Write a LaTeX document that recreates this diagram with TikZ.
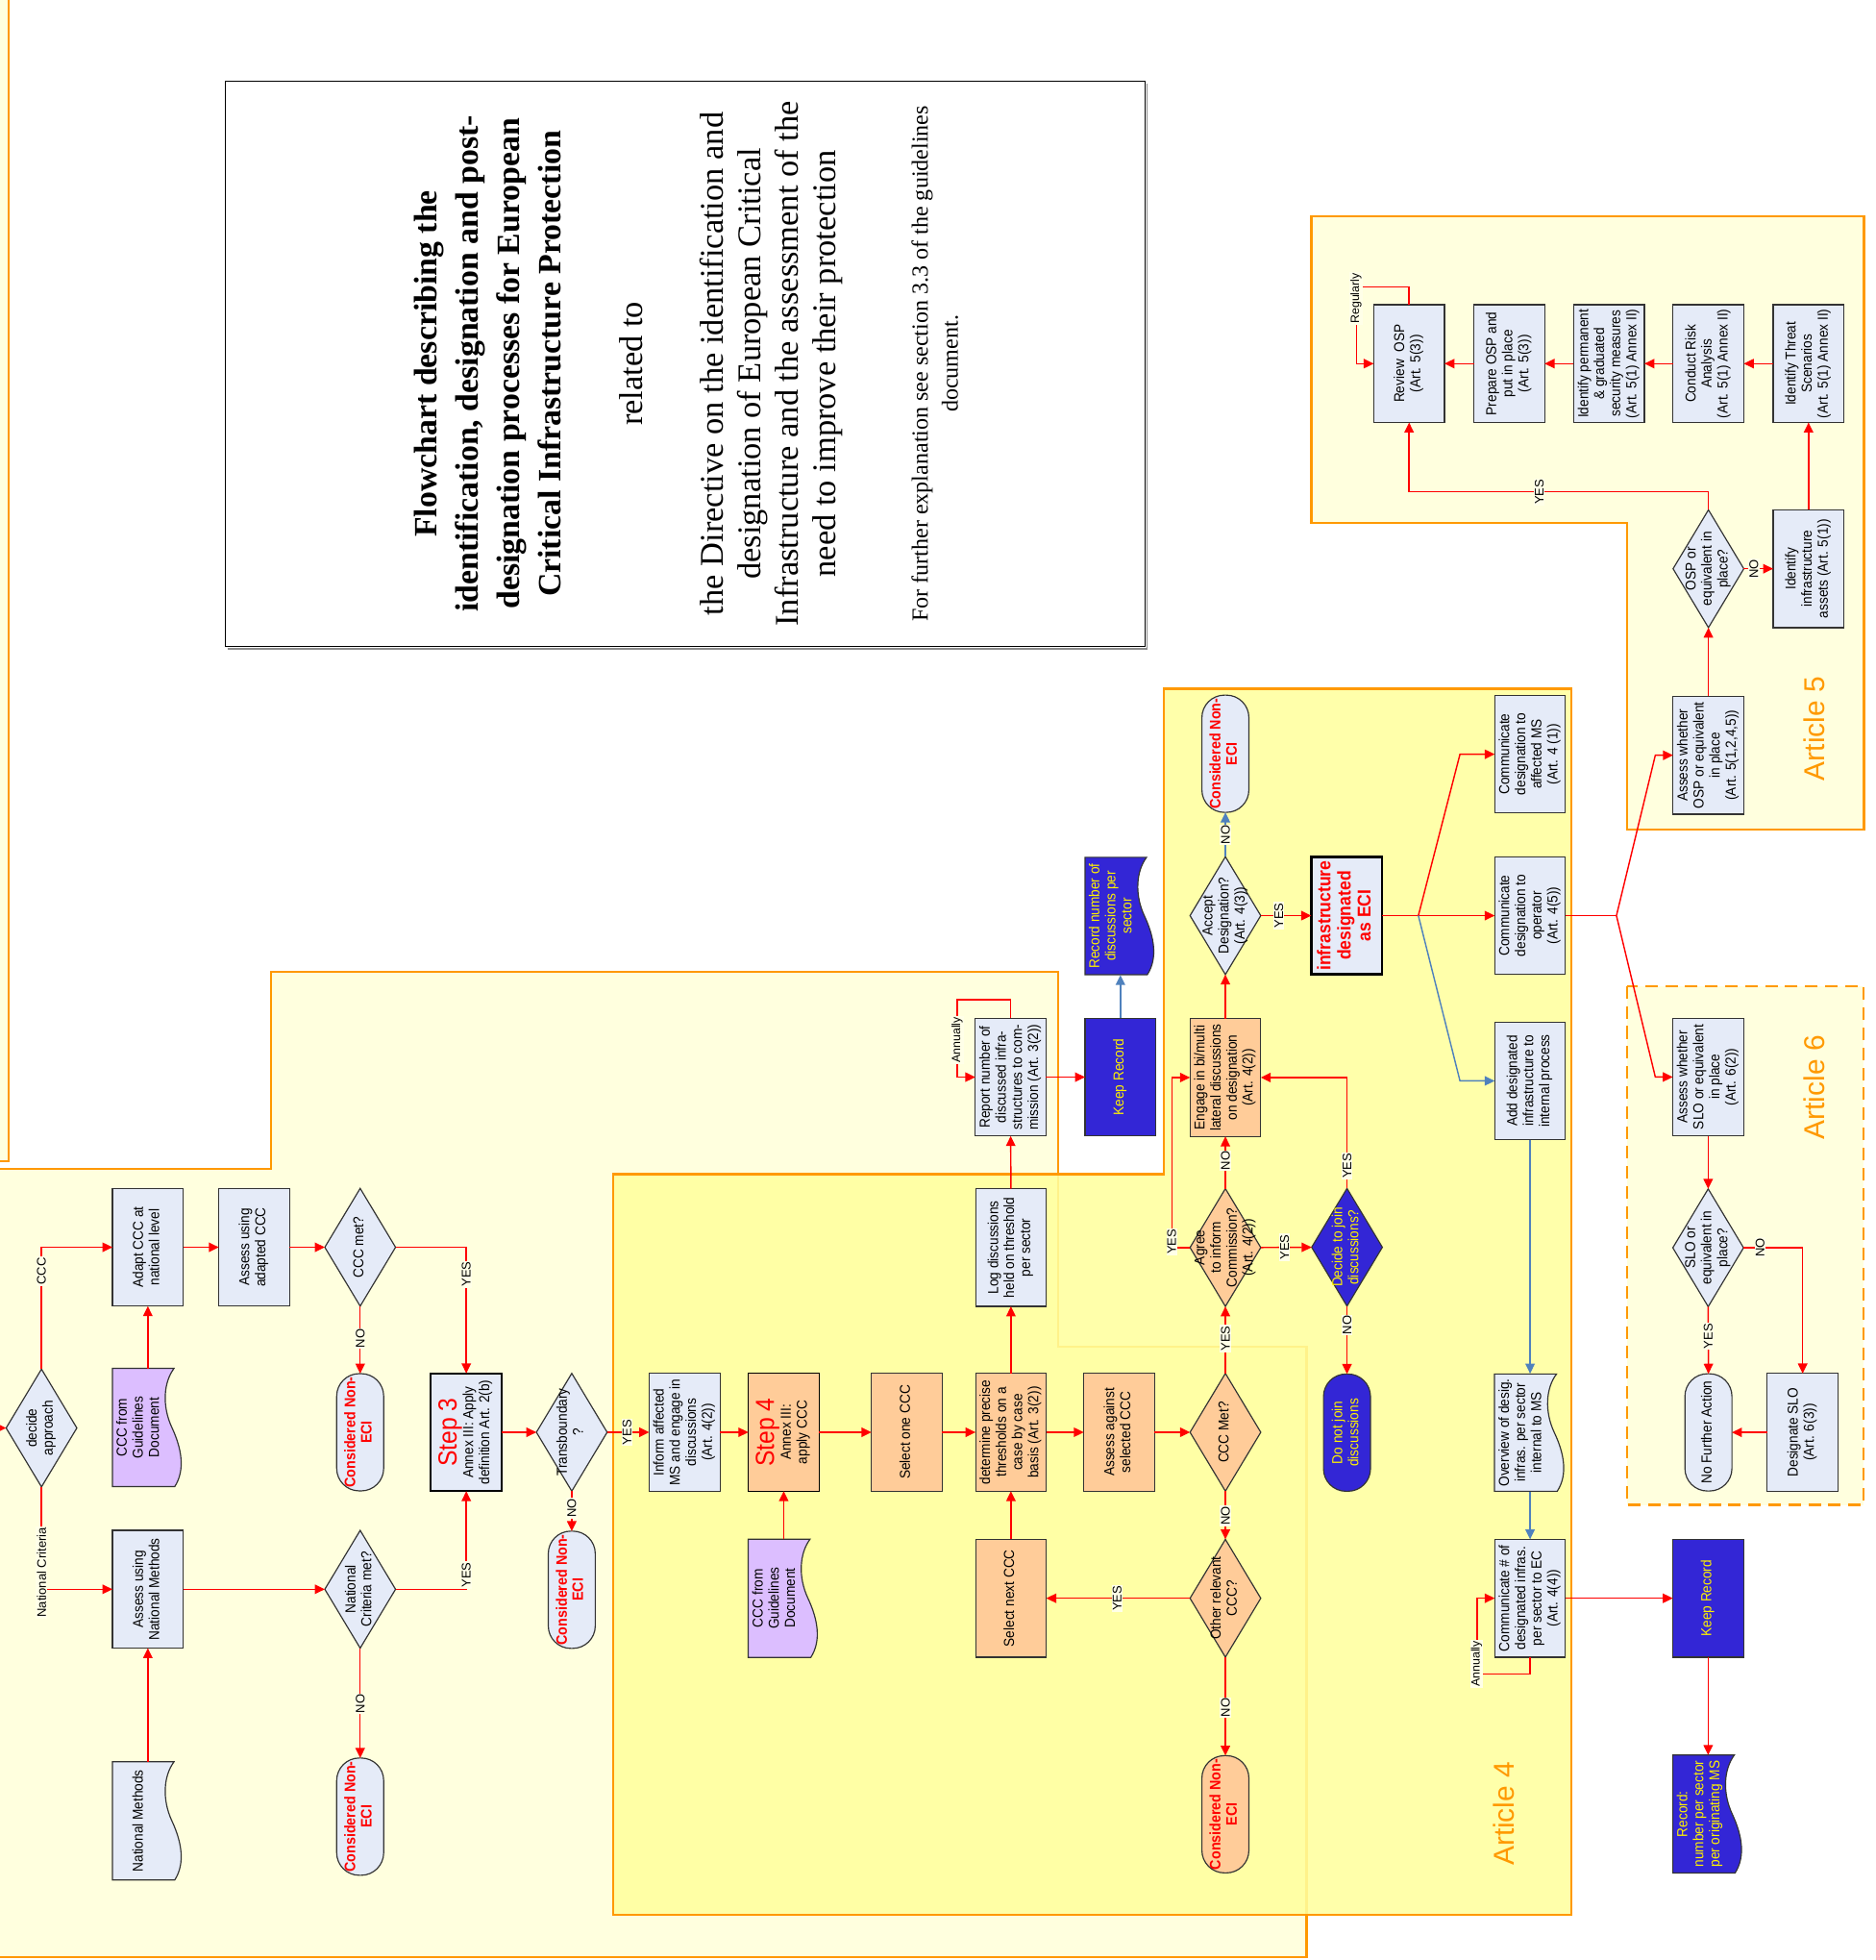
\documentclass[tikz,border=0pt]{standalone}
\usepackage{fontspec}
\usepackage{graphicx}
\setmainfont{Liberation Serif}
\setsansfont{Liberation Sans}
\usetikzlibrary{shapes.geometric,arrows.meta,calc}
\definecolor{lb}{RGB}{229,235,248}
\definecolor{pch}{RGB}{255,204,153}
\definecolor{lil}{RGB}{220,190,255}
\definecolor{dblue}{RGB}{51,38,214}
\definecolor{org}{RGB}{255,153,0}
\definecolor{bgy}{RGB}{255,255,222}
\definecolor{a4y}{RGB}{255,255,158}
\definecolor{arrb}{RGB}{79,129,189}
\definecolor{lblf}{RGB}{255,255,232}
\newcommand\bx{\sffamily\fontsize{10.5}{11.7}\selectfont}
\newcommand\nf{\sffamily\bfseries\fontsize{11}{11.8}\selectfont}
\newcommand\lb{\sffamily\fontsize{10}{12}\selectfont}
\newcommand\sm{\sffamily\fontsize{9.5}{11}\selectfont}
\newcommand\ZR[1]{\makebox[0pt]{\smash{\raisebox{-.5\height}{\rotatebox{90}{\scalebox{1}[1.1]{\begin{tabular}{@{}c@{}}#1\end{tabular}}}}}}}
\newcommand\ZD[1]{\makebox[0pt]{\smash{\raisebox{-.5\height}{\rotatebox{90}{\scalebox{1}[1.1]{\begin{tabular}{@{}c@{}}#1\end{tabular}}}}}\hspace{13pt}}}
\newcommand\docpath[5]{%
  \begin{scope}[shift={(#1-#3/2,#2-#4/2)},x=#3pt,y=-#4pt]
  \draw[docline,fill=#5] (0,0) -- (0.87,0) .. controls (0.72,0.12) and (0.70,0.32) .. (0.84,0.5) .. controls (0.98,0.68) and (1.03,0.86) .. (0.88,1) -- (0,1) -- cycle;
  \end{scope}}
\tikzset{
  every node/.style={inner sep=0pt, outer sep=0pt},
  shp/.style={draw=black!80, line width=0.9pt, font=\bx},
  bxl/.style={shp, rectangle, fill=lb, minimum width=56.6pt, minimum height=94.2pt},
  bxo/.style={bxl, fill=pch},
  bxb/.style={bxl, fill=dblue, text=yellow},
  dia/.style={shp, diamond, fill=lb, minimum width=56.6pt, minimum height=94.2pt},
  term/.style={shp, rectangle, rounded corners=18pt, minimum width=37.6pt, minimum height=93.8pt},
  non/.style={term, text=red, font=\nf},
  docn/.style={rectangle, minimum width=56.6pt, minimum height=94.4pt, font=\bx},
  docline/.style={draw=black!80, line width=0.9pt},
  con/.style={draw=red, line width=1.1pt},
  arr/.style={con, -{Triangle[length=8pt,width=7.5pt]}},
  barr/.style={draw=arrb, line width=1.1pt, -{Triangle[length=8pt,width=7.5pt]}},
  lbl/.style={rotate=90, font=\lb, fill=lblf, inner sep=0.8pt},
  slbl/.style={lbl, font=\sm},
  art/.style={rotate=90, text=org, font=\sffamily\fontsize{23}{26}\selectfont},
  frm/.style={draw=org, line width=1.8pt, fill=bgy},
}
\begin{document}
\begin{tikzpicture}[x=1pt,y=-1pt]
\useasboundingbox (0,0) rectangle (1501,1568);
% ---------------- frames
\begin{scope}
\clip (0,0) rectangle (1501,1568);
\draw[frm] (-20,-20) rectangle (7,929);
\draw[frm] (-20,935) -- (217,935) -- (217,777.5) -- (846.5,777.5) -- (846.5,1077.5) -- (1045.5,1077.5) -- (1045.5,1565.5) -- (-20,1565.5) -- cycle;
\draw[frm, fill=a4y, fill opacity=0.88] (490.4,939.3) -- (931.2,939.3) -- (931.2,551) -- (1257.2,551) -- (1257.2,1532) -- (490.4,1532) -- cycle;
\draw[frm] (1049.3,173.1) -- (1491.4,173.1) -- (1491.4,663.7) -- (1301.8,663.7) -- (1301.8,418.4) -- (1049.3,418.4) -- cycle;
\draw[frm, dash pattern=on 10pt off 6pt] (1302,788.9) rectangle (1491.2,1203.9);
\end{scope}
% ---------------- title box
\draw[black!45, line width=1pt] (182,519) -- (918,519) -- (918,67);
\draw[black, line width=0.8pt, fill=white] (180,65) rectangle (916,517);
\node[rotate=90, align=center, font=\rmfamily\bfseries\fontsize{26}{33}\selectfont] (t1) at (390.5,291) {Flowchart describing the\\identification, designation and post-\\designation processes for European\\Critical Infrastructure Protection};
\node[rotate=90, font=\rmfamily\fontsize{26.5}{30}\selectfont] (t2) at (505.3,291) {related to};
\node[rotate=90, align=center, font=\rmfamily\fontsize{26.5}{30}\selectfont] (t3) at (617,291) {the Directive on the identification and\\designation of European Critical\\Infrastructure and the assessment of the\\need to improve their protection};
\node[rotate=90, align=center, font=\rmfamily\fontsize{18.5}{24}\selectfont] (t4) at (748,291) {For further explanation see section 3.3 of the guidelines\\document.};
% ---------------- article labels
\node[art] (a4) at (1203,1451) {Article 4};
\node[art] (a5) at (1452,583) {Article 5};
\node[art] (a6) at (1452,870) {Article 6};
% ---------------- left part
\node[dia] (decide) at (33.2,1142.4) {\ZR{decide\\approach}};
\node[bxl] (adapt) at (118.3,997.8) {\ZR{Adapt CCC at\\national level}};
\node[bxl] (assessad) at (203.4,997.8) {\ZR{Assess using\\adapted CCC}};
\node[dia] (cccmet) at (288.2,997.8) {\ZR{CCC met?}};
\docpath{118.3}{1142}{56.6}{94.6}{lil}
\node[docn] (ccc1) at (118.3,1142) {\ZD{CCC from\\Guidelines\\Document}};
\node[non, fill=lb] (non1) at (288.2,1145.8) {\ZR{Considered Non-\\ECI}};
\node[bxl, draw=black, line width=1.6pt] (step3) at (373.1,1145.8) {\ZR{{\fontsize{19}{20}\selectfont\color{red}Step 3}\\Annex III: Apply\\definition Art. 2(b)}};
\node[dia] (transb) at (457.5,1145.8) {\ZR{Transboundary\\?}};
\node[non, fill=lb] (non2) at (457.5,1271.8) {\ZR{Considered Non-\\ECI}};
\node[bxl] (assessnm) at (118.3,1271.4) {\ZR{Assess using\\National Methods}};
\docpath{118.3}{1456.7}{56.6}{94.6}{lb}
\node[docn] (natmeth) at (118.3,1456.7) {\ZD{National Methods}};
\node[dia] (ncmet) at (288.2,1271.4) {\ZR{National\\Criteria met?}};
\node[non, fill=lb] (non3) at (288.2,1453.3) {\ZR{Considered Non-\\ECI}};
% ---------------- article 4
\node[bxl] (inform) at (547.8,1145.8) {\ZR{Inform affected\\MS and engage in\\discussions\\(Art. 4(2))}};
\node[bxo, draw=black] (step4) at (627.1,1145.8) {\ZR{{\fontsize{19}{20}\selectfont\color{red}Step 4}\\Annex III:\\apply CCC}};
\docpath{627.1}{1278.6}{57}{94.6}{lil}
\node[docn] (ccc2) at (627.1,1278.6) {\ZD{CCC from\\Guidelines\\Document}};
\node[bxo] (selone) at (725.6,1145.8) {\ZR{Select one CCC}};
\node[bxo] (determine) at (808.9,1145.8) {\ZR{determine precise\\thresholds on a\\case by case\\basis (Art. 3(2))}};
\node[bxo] (assessag) at (895.5,1145.8) {\ZR{Assess against\\selected CCC}};
\node[dia, fill=pch] (cccmet2) at (980.5,1145.8) {\ZR{CCC Met?}};
\node[bxl] (log) at (808.9,998) {\ZR{Log discussions\\held on threshold\\per sector}};
\node[bxo] (selnext) at (808.9,1278.6) {\ZR{Select next CCC}};
\node[dia, fill=pch] (other) at (980.5,1278.6) {\ZR{Other relevant\\CCC?}};
\node[non, fill=pch] (non4) at (980.5,1451.4) {\ZR{Considered Non-\\ECI}};
\node[dia, fill=pch] (agree) at (980.5,998) {\ZR{Agree\\to inform\\Commission?\\(Art. 4(2))}};
\node[bxo] (engage) at (980.5,862) {\ZR{Engage in bi/multi\\lateral discussions\\on designation\\(Art. 4(2))}};
\node[dia] (accept) at (980.5,732.5) {\ZR{Accept\\Designation?\\(Art. 4(3))}};
\node[non, fill=lb] (non5) at (980.5,603) {\ZR{Considered Non-\\ECI}};
\node[dia, fill=dblue, text=yellow] (decide2) at (1077.8,997.8) {\ZR{Decide to join\\discussions?}};
\node[term, fill=dblue, text=yellow] (donot) at (1077.8,1146.1) {\ZR{Do not join\\discussions}};
\node[bxl, draw=black, line width=2.2pt, text=red, font=\sffamily\bfseries\fontsize{13.5}{14.6}\selectfont] (infra) at (1077.5,732.5) {\ZR{infrastructure\\designated\\as ECI}};
\node[bxl] (commms) at (1224.3,603.4) {\ZR{Communicate\\designation to\\affected MS\\(Art. 4 (1))}};
\node[bxl] (commop) at (1224.3,732.5) {\ZR{Communicate\\designation to\\operator\\(Art. 4(5))}};
\node[bxl] (adddes) at (1224.3,864.7) {\ZR{Add designated\\infrastructure to\\internal process}};
\docpath{1224.3}{1146.1}{57.1}{93.8}{lb}
\node[docn] (overview) at (1224.3,1146.1) {\ZD{Overview of desig.\\infras. per sector\\internal to MS}};
\node[bxl] (commnum) at (1224.3,1278.6) {\ZR{Communicate \# of\\designated infras.\\per sector to EC\\(Art. 4(4))}};
% ---------------- outside boxes
\node[bxl] (report) at (808.7,861.7) {\ZR{Report number of\\discussed infra-\\structures to com-\\mission (Art. 3(2))}};
\node[bxb] (keep1) at (896.5,861.7) {\ZR{Keep Record}};
\docpath{896.5}{732.8}{56.6}{93.9}{dblue}
\node[docn, text=yellow] (recdisc) at (896.5,732.8) {\ZD{Record number of\\discussions per\\sector}};
\node[bxb] (keep2) at (1366.8,1278.6) {\ZR{Keep Record}};
\docpath{1366.8}{1451.2}{56.6}{94.4}{dblue}
\node[docn, text=yellow] (recms) at (1366.8,1451.2) {\ZD{Record:\\number per sector\\per originating MS}};
% ---------------- article 5
\node[bxl] (review) at (1127.5,290.9) {\ZR{Review\ \ OSP\\(Art. 5(3))}};
\node[bxl] (prep) at (1207.6,290.9) {\ZR{Prepare OSP and\\put in place\\(Art. 5(3))}};
\node[bxl] (idperm) at (1287.5,290.9) {\ZR{Identify permanent\\\& graduated\\security measures\\(Art. 5(1) Annex II)}};
\node[bxl] (risk) at (1367,290.9) {\ZR{Conduct Risk\\Analysis\\(Art. 5(1) Annex II)}};
\node[bxl] (threat) at (1447.1,290.9) {\ZR{Identify Threat\\Scenarios\\(Art. 5(1) Annex II)}};
\node[bxl] (idinfra) at (1447.1,455) {\ZR{Identify\\infrastructure\\assets (Art. 5(1))}};
\node[dia] (ospq) at (1367,455) {\ZR{OSP or\\equivalent in\\place?}};
\node[bxl] (assessosp) at (1367,604.2) {\ZR{Assess whether\\OSP or equivalent\\in place\\(Art. 5(1,2,4,5))}};
% ---------------- article 6
\node[bxl] (assessslo) at (1366.8,861.6) {\ZR{Assess whether\\SLO or equivalent\\in place\\(Art. 6(2))}};
\node[dia] (sloq) at (1366.8,998.2) {\ZR{SLO or\\equivalent in\\place?}};
\node[term, fill=lb] (nofurther) at (1367,1145.9) {\ZR{No Further Action}};
\node[bxl] (desslo) at (1442.4,1145.9) {\ZR{Designate SLO\\(Art. 6(3))}};
% ---------------- connectors left
\coordinate (entry) at (0,1142.4);
\draw[arr] (entry) -- (decide.west);
\draw[arr] (decide.north) |- (adapt.west);
\draw[arr] (decide.south) |- (assessnm.west);
\draw[arr] (adapt.east) -- (assessad.west);
\draw[arr] (assessad.east) -- (cccmet.west);
\draw[arr] (ccc1.north) -- (adapt.south);
\draw[arr] (cccmet.east) -| (step3.north);
\draw[arr] (cccmet.south) -- (non1.north);
\draw[arr] (assessnm.east) -- (ncmet.west);
\draw[arr] (natmeth.north) -- (assessnm.south);
\draw[arr] (ncmet.east) -| (step3.south);
\draw[arr] (ncmet.south) -- (non3.north);
\draw[arr] (step3.east) -- (transb.west);
\draw[arr] (transb.south) -- (non2.north);
\draw[arr] (transb.east) -- (inform.west);
% ---------------- connectors article 4
\draw[arr] (inform.east) -- (step4.west);
\draw[arr] (step4.east) -- (selone.west);
\draw[arr] (selone.east) -- (determine.west);
\draw[arr] (determine.east) -- (assessag.west);
\draw[arr] (assessag.east) -- (cccmet2.west);
\draw[arr] (ccc2.north) -- (step4.south);
\draw[arr] (determine.north) -- (log.south);
\draw[arr] (log.north) -- (report.south);
\draw[arr] (selnext.north) -- (determine.south);
\draw[arr] (cccmet2.south) -- (other.north);
\draw[arr] (other.west) -- (selnext.east);
\draw[arr] (other.south) -- (non4.north);
\draw[arr] (cccmet2.north) -- (agree.south);
\draw[arr] (agree.north) -- (engage.south);
\draw[arr] (agree.west) -- ++(-14.6,0) |- (engage.west);
\draw[arr] (agree.east) -- (decide2.west);
\draw[arr] (decide2.north) |- (engage.east);
\draw[arr] (decide2.south) -- (donot.north);
\draw[arr] (engage.north) -- (accept.south);
\draw[barr] (accept.north) -- (non5.south);
\draw[arr] (accept.east) -- (infra.west);
\coordinate (j1) at (1134.9,732.5);
\coordinate (j2) at (1168.2,603.4);
\coordinate (j3) at (1168.2,864.7);
\draw[con] (infra.east) -- (j1);
\draw[arr] (j1) -- (commop.west);
\draw[arr] (j1) -- (j2) -- (commms.west);
\draw[barr] (j1) -- (j3) -- (adddes.west);
\draw[barr] (adddes.south) -- (overview.north);
\draw[barr] (overview.south) -- (commnum.north);
\draw[arr] (commnum.south) -- ++(0,13.6) -| ([xshift=-14.1pt]commnum.west) -- (commnum.west);
\draw[arr] (commnum.east) -- (keep2.west);
\draw[arr] (keep2.south) -- (recms.north);
\draw[arr] (report.east) -- (keep1.west);
\draw[barr] (keep1.north) -- (recdisc.south);
\draw[arr] (report.north) -- ++(0,-14.8) -| ([xshift=-14.6pt]report.west) -- (report.west);
\coordinate (j4) at (1293.4,732.5);
\coordinate (j5) at (1324.5,604.2);
\coordinate (j6) at (1324.5,861.6);
\draw[con] (commop.east) -- (j4);
\draw[arr] (j4) -- (j5) -- (assessosp.west);
\draw[arr] (j4) -- (j6) -- (assessslo.west);
% ---------------- connectors article 5
\draw[arr] (assessosp.north) -- (ospq.south);
\draw[arr] (ospq.east) -- (idinfra.west);
\draw[arr] (idinfra.north) -- (threat.south);
\draw[arr] (threat.west) -- (risk.east);
\draw[arr] (risk.west) -- (idperm.east);
\draw[arr] (idperm.west) -- (prep.east);
\draw[arr] (prep.west) -- (review.east);
\draw[arr] (ospq.north) -- ++(0,-14.5) -| (review.south);
\draw[arr] (review.north) -- ++(0,-14.2) -| ([xshift=-13.9pt]review.west) -- (review.west);
% ---------------- connectors article 6
\draw[arr] (assessslo.south) -- (sloq.north);
\draw[arr] (sloq.east) -| (desslo.north);
\draw[arr] (sloq.south) -- (nofurther.north);
\draw[arr] (desslo.west) -- (nofurther.east);
% ---------------- labels
\node[lbl] (l1) at (33.2,1017) {CCC};
\node[lbl] (l2) at (33.2,1258) {National Criteria};
\node[lbl] (l3) at (373.1,1019.4) {YES};
\node[lbl] (l4) at (288.2,1070.8) {NO};
\node[lbl] (l5) at (373.1,1260) {YES};
\node[lbl] (l6) at (288.2,1363) {NO};
\node[lbl] (l7) at (457.5,1206.6) {NO};
\node[lbl] (l8) at (501.6,1145.8) {YES};
\node[lbl] (l9) at (980.5,1212.8) {NO};
\node[lbl] (l10) at (893.8,1278.6) {YES};
\node[lbl] (l11) at (980.5,1366) {NO};
\node[lbl] (l12) at (980.5,1070.8) {YES};
\node[lbl] (l13) at (980.5,928.6) {NO};
\node[lbl] (l14) at (937.6,993.4) {YES};
\node[lbl] (l15) at (1027.8,997.8) {YES};
\node[lbl] (l16) at (1077.8,932.6) {YES};
\node[lbl] (l17) at (1077.8,1060) {NO};
\node[lbl] (l18) at (980.5,667.8) {NO};
\node[lbl] (l19) at (1023.2,732.5) {YES};
\node[slbl] (l20) at (1181.6,1331) {Annually};
\node[slbl] (l21) at (765.9,832) {Annually};
\node[lbl] (l22) at (1403.4,455) {NO};
\node[lbl] (l23) at (1231.6,393.5) {YES};
\node[slbl] (l24) at (1085,238.8) {Regularly};
\node[lbl] (l25) at (1408.4,998.2) {NO};
\node[lbl] (l26) at (1366.8,1069) {YES};
\end{tikzpicture}
\end{document}
